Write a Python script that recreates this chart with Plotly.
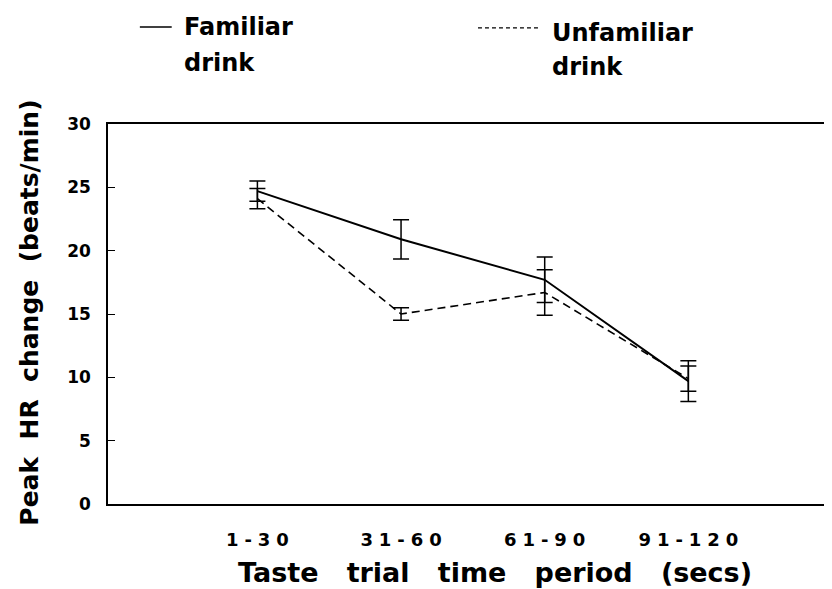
import plotly.graph_objects as go

periods = ["1-30", "31-60", "61-90", "91-120"]
familiar = [24.7, 20.9, 17.7, 9.7]
familiar_err = [0.8, 1.55, 1.8, 1.6]
unfamiliar = [24.1, 15.0, 16.7, 9.9]
unfamiliar_err = [0.8, 0.5, 1.8, 1.0]
y_ticks = [0, 5, 10, 15, 20, 25, 30]

xpos = [1, 2, 3, 4]
FONT = "DejaVu Sans"
SP = "\u2004"
NB = "\u00a0"
tick_text = [SP.join(list(p)) for p in periods]

fig = go.Figure()
fig.add_trace(go.Scatter(
    x=xpos, y=familiar, mode="lines", name="Familiar drink",
    line=dict(color="black", width=2),
    error_y=dict(type="data", array=familiar_err, color="black", thickness=1.5, width=8),
))
fig.add_trace(go.Scatter(
    x=xpos, y=unfamiliar, mode="lines", name="Unfamiliar drink",
    line=dict(color="black", width=1.6, dash="8px,5px"),
    error_y=dict(type="data", array=unfamiliar_err, color="black", thickness=1.5, width=8),
))

fig.update_layout(
    width=824, height=581,
    margin=dict(l=100, r=0, t=116, b=85),
    paper_bgcolor="white", plot_bgcolor="white",
    showlegend=False,
    font=dict(family=FONT, color="black"),
    xaxis=dict(
        range=[-0.04, 5.0], tickvals=xpos, ticktext=tick_text,
        showline=True, linecolor="black", linewidth=1.5, mirror=True,
        ticks="", showgrid=False, zeroline=False,
        tickfont=dict(family=FONT, size=18, color="black", weight="bold"),
        ticklabelstandoff=19,
    ),
    yaxis=dict(
        range=[0, 30], tickvals=y_ticks,
        showline=True, linecolor="black", linewidth=1.5,
        ticks="inside", ticklen=7, tickwidth=1.2, tickcolor="black",
        showgrid=False, zeroline=False,
        tickfont=dict(family=FONT, size=17, color="black", weight="bold"),
        ticklabelstandoff=12,
    ),
)

# axis titles
fig.add_annotation(
    text=(NB * 3).join(["Taste", "trial", "time", "period", "(secs)"]),
    xref="paper", yref="paper", x=0.535, y=-0.179, xanchor="center", yanchor="middle",
    showarrow=False, font=dict(family=FONT, size=27, color="black", weight="bold"),
)
fig.add_annotation(
    text=(NB * 2).join(["Peak", "HR", "change", "(beats/min)"]),
    xref="paper", yref="paper", x=-0.108, y=0.503, xanchor="center", yanchor="middle",
    textangle=-90, showarrow=False,
    font=dict(family=FONT, size=25, color="black", weight="bold"),
)

# legend drawn manually at top
fig.add_shape(type="line", xref="paper", yref="paper", x0=0.044, x1=0.088, y0=1.255, y1=1.255,
              line=dict(color="black", width=1.5))
fig.add_shape(type="line", xref="paper", yref="paper", x0=0.511, x1=0.594, y0=1.253, y1=1.253,
              line=dict(color="black", width=1.3, dash="4px,3px"))
leg_font = dict(family=FONT, size=24, color="black", weight="bold")
for txt, x, y in [("Familiar", 0.102, 1.255), ("drink", 0.102, 1.161),
                  ("Unfamiliar", 0.6105, 1.239), ("drink", 0.6105, 1.15)]:
    fig.add_annotation(text=txt, xref="paper", yref="paper", x=x, y=y,
                       xanchor="left", yanchor="middle", showarrow=False, font=leg_font)

fig.write_html("out.html")
